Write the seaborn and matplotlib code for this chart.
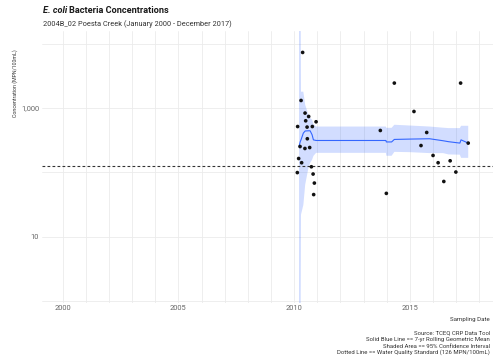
import matplotlib
matplotlib.use("Agg")
import numpy as np
import pandas as pd
import seaborn as sns
import matplotlib.pyplot as plt
import matplotlib.dates as mdates
from matplotlib.ticker import FixedLocator, NullFormatter

# --- individual E. coli samples (MPN/100mL) ---
sample_dates = [
    "2010-02-21", "2010-02-26", "2010-03-14", "2010-04-05", "2010-04-21",
    "2010-04-30", "2010-05-16", "2010-06-21", "2010-06-23", "2010-07-03",
    "2010-07-25", "2010-07-29", "2010-08-19", "2010-09-04", "2010-10-01",
    "2010-10-16", "2010-10-28", "2010-11-06", "2010-11-17", "2010-12-14",
    "2013-09-23", "2013-12-27", "2014-05-02", "2015-03-08", "2015-06-27",
    "2015-09-25", "2016-01-03", "2016-03-23", "2016-06-21", "2016-09-29",
    "2016-12-28", "2017-03-13", "2017-07-11",
]
ecoli = [
    99, 516, 164, 252, 1313,
    141, 7350, 235, 836, 634,
    506, 333, 740, 243, 122,
    516, 94, 45, 68, 612,
    448, 47, 2450, 885, 261,
    417, 183, 141, 72, 151,
    101, 2450, 285,
]

# --- 7-yr rolling geometric mean with 95% confidence limits ---
smooth_dates = [
    "2010-03-20", "2010-04-08", "2010-04-20", "2010-05-27", "2010-06-25",
    "2010-08-15", "2010-09-11", "2010-10-12", "2010-11-02", "2010-12-14",
    "2013-12-20", "2013-12-27", "2014-03-20", "2014-05-02", "2015-01-01",
    "2015-11-10", "2016-06-10", "2016-09-01", "2017-03-01", "2017-03-20",
    "2017-07-11",
]
geo_mean = [252, 300, 320, 408, 440, 443, 443, 384, 320, 313,
            313, 297, 297, 325, 329, 333, 310, 300, 285, 320, 285]
ci_lower = [0.01, 0.01, 22, 31, 64, 117, 140, 157, 180, 201,
            201, 181, 181, 208, 206, 199, 199, 190, 188, 168, 168]
ci_upper = [1e6, 1e6, 1800, 1800, 1125, 790, 700, 658, 560, 516,
            516, 493, 493, 550, 535, 516, 495, 488, 488, 530, 530]

standard = 126
period_start, period_end = "2000-01-01", "2017-12-31"
y_major = [10, 1000]
y_major_labels = ["10", "1,000"]
y_minor = [1, 100, 10000]
x_major_years = [2000, 2005, 2010, 2015]

samples = pd.DataFrame({"date": pd.to_datetime(sample_dates), "ecoli": ecoli})
smooth = pd.DataFrame({
    "date": pd.to_datetime(smooth_dates),
    "gmean": geo_mean,
    "lower": ci_lower,
    "upper": ci_upper,
})

sns.set_theme(style="whitegrid")
plt.rcParams["font.family"] = ["Roboto", "DejaVu Sans"]

W, H = 493, 360
fig = plt.figure(figsize=(W / 100, H / 100), dpi=100)
fig.patch.set_facecolor("white")
ax = fig.add_axes([41.8 / W, 1 - 302.7 / H, (500 - 41.8) / W, (302.7 - 31) / H])
ax.set_facecolor("white")

blue = "#3366FF"
ax.fill_between(smooth["date"], smooth["lower"], smooth["upper"],
                color=blue, alpha=0.22, lw=0, zorder=2)
sns.lineplot(data=smooth, x="date", y="gmean", color=blue, lw=0.8,
             ax=ax, zorder=3)
sns.scatterplot(data=samples, x="date", y="ecoli", color="#111111", s=7,
                edgecolor="none", ax=ax, zorder=4)
ax.axhline(standard, color="#333333", lw=0.8, ls=(0, (2.5, 2)), zorder=3)

ax.set_yscale("log")
ax.set_ylim(10 ** -0.03, 10 ** 4.2)
t0, t1 = pd.Timestamp(period_start), pd.Timestamp(period_end)
pad = (t1 - t0) * 0.05
ax.set_xlim(t0 - pad, t1 + pad)

ax.yaxis.set_major_locator(FixedLocator(y_major))
ax.set_yticklabels(y_major_labels)
ax.yaxis.set_minor_locator(FixedLocator(y_minor))
ax.yaxis.set_minor_formatter(NullFormatter())
ax.set_xticks([pd.Timestamp(f"{y}-01-01") for y in x_major_years])
ax.set_xticklabels([str(y) for y in x_major_years])
ax.xaxis.set_minor_locator(mdates.YearLocator(1))
ax.xaxis.set_minor_formatter(NullFormatter())

ax.grid(True, which="both", color="#ebebeb", lw=0.6)
ax.set_axisbelow(True)
for s in ax.spines.values():
    s.set_visible(False)
ax.tick_params(which="both", length=0, labelsize=5.4, labelcolor="#666666", pad=2)
ax.set_xlabel("")
ax.set_ylabel("")

# title: italic organism name followed by bold text
title_y = 1 - 10.5 / H
t_org = fig.text(43 / W, title_y, "E. coli", fontsize=6.6, fontweight="bold",
                 style="italic", color="#1a1a1a", va="center", ha="left")
fig.canvas.draw()
bb = t_org.get_window_extent()
fig.text((bb.x1 + 2) / W, title_y, "Bacteria Concentrations", fontsize=6.6,
         fontweight="bold", color="#1a1a1a", va="center", ha="left")
fig.text(43 / W, 1 - 24.3 / H,
         "2004B_02 Poesta Creek (January 2000 - December 2017)",
         fontsize=5.3, color="#333333", va="center", ha="left")

fig.text(15 / W, 1 - 83.5 / H, "Concentration (MPN/100mL)", rotation=90,
         fontsize=3.8, color="#333333", va="center", ha="center")
fig.text(490 / W, 1 - 319 / H, "Sampling Date", fontsize=4.4,
         color="#333333", va="center", ha="right")

caption = [
    "Source: TCEQ CRP Data Tool",
    "Solid Blue Line == 7-yr Rolling Geometric Mean",
    "Shaded Area == 95% Confidence Interval",
    "Dotted Line == Water Quality Standard (126 MPN/100mL)",
]
for i, line in enumerate(caption):
    fig.text(490 / W, 1 - (333 + 6.5 * i) / H, line, fontsize=4.3,
             color="#333333", va="center", ha="right")

fig.savefig("out.png", dpi=100)
